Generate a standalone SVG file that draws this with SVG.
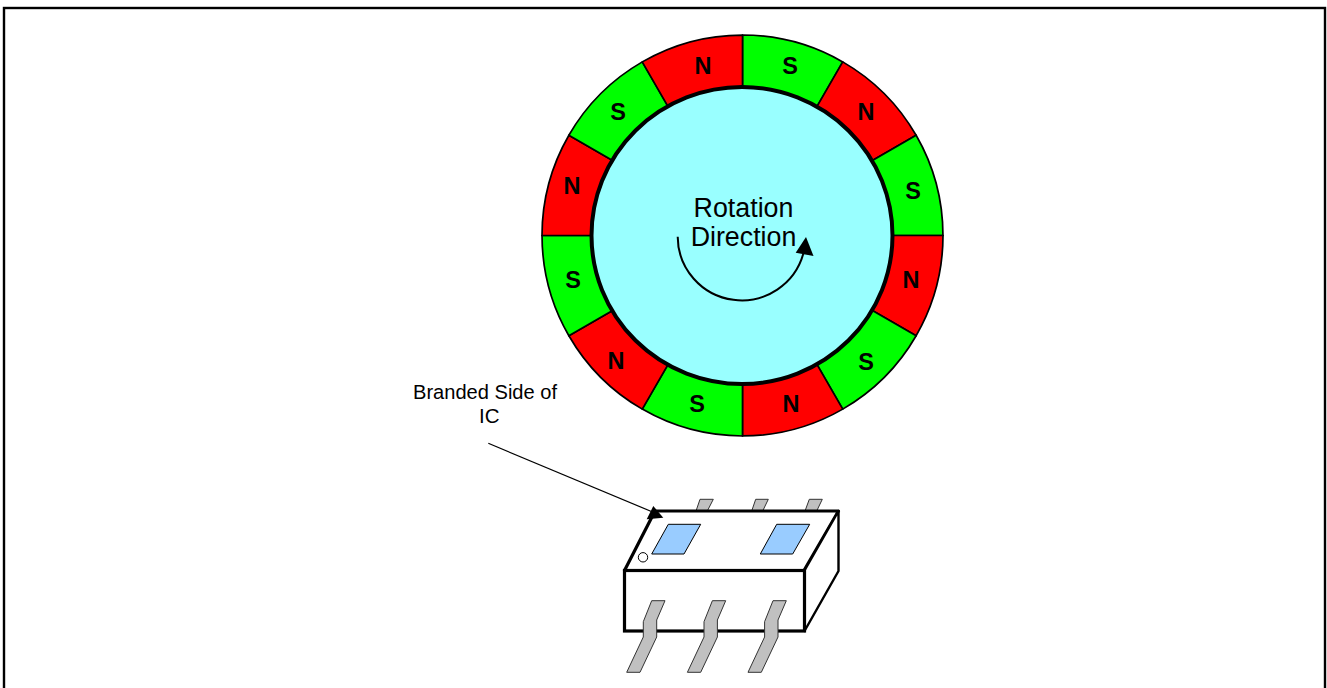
<svg xmlns="http://www.w3.org/2000/svg" width="1327" height="688" viewBox="0 0 1327 688">
<style>
text{font-family:"Liberation Sans",Arial,sans-serif;fill:#000;text-anchor:middle}
.pole{font-size:23.5px;font-weight:bold}
.lbl{font-size:26.8px}
.note{font-size:20.5px}
.n{fill:#f00}.s{fill:#0f0}
.seg{stroke:#000;stroke-width:1.7;stroke-linejoin:round}
.pin{fill:#c0c0c0;stroke:#333;stroke-width:1;stroke-linejoin:round}
.win{fill:#9cf;stroke:#000;stroke-width:1}
.thin{fill:none;stroke:#000;stroke-width:1.2}
</style>
<defs>
<path id="seg" class="seg" d="M742.5 235.5L742.5 35A200.5 200.5 0 0 1 842.75 61.9Z"/>
<path id="fp" class="pin" d="M651.7 600.7H665L656.7 620V637L640 672.3H626.7L643.3 637V621.7Z"/>
</defs>
<rect id="frame" x="4" y="8" width="1321" height="690" fill="#fff" stroke="#000" stroke-width="2.4"/>
<g id="ring">
<use href="#seg" class="s"/>
<use href="#seg" class="n" transform="rotate(30 742.5 235.5)"/>
<use href="#seg" class="s" transform="rotate(60 742.5 235.5)"/>
<use href="#seg" class="n" transform="rotate(90 742.5 235.5)"/>
<use href="#seg" class="s" transform="rotate(120 742.5 235.5)"/>
<use href="#seg" class="n" transform="rotate(150 742.5 235.5)"/>
<use href="#seg" class="s" transform="rotate(180 742.5 235.5)"/>
<use href="#seg" class="n" transform="rotate(210 742.5 235.5)"/>
<use href="#seg" class="s" transform="rotate(240 742.5 235.5)"/>
<use href="#seg" class="n" transform="rotate(270 742.5 235.5)"/>
<use href="#seg" class="s" transform="rotate(300 742.5 235.5)"/>
<use href="#seg" class="n" transform="rotate(330 742.5 235.5)"/>
</g>
<g id="rotor">
<ellipse cx="742" cy="235.5" rx="150.5" ry="148.5" fill="#9ff" stroke="#000" stroke-width="4"/>
<text class="lbl" x="743.5" y="217">Rotation</text>
<text class="lbl" x="743.5" y="246">Direction</text>
</g>
<g id="poles" class="pole">
<text x="703" y="74">N</text>
<text x="790" y="74">S</text>
<text x="866" y="120">N</text>
<text x="913" y="199">S</text>
<text x="911" y="288">N</text>
<text x="866" y="370">S</text>
<text x="791" y="411.5">N</text>
<text x="697" y="412">S</text>
<text x="616" y="369">N</text>
<text x="573" y="288">S</text>
<text x="572" y="194">N</text>
<text x="618" y="119.5">S</text>
</g>
<g id="chip">
<path class="pin" d="M700 499.3H713.3L707.3 511H696Z"/>
<path class="pin" d="M755.7 499.3H768.3L762.7 511H751.7Z"/>
<path class="pin" d="M809.3 499.3H822.3L816.7 511H805Z"/>
<path d="M624.5 570.5L655 511H838.5L804 570.5Z" fill="#fff" stroke="#000" stroke-width="3.2" stroke-linejoin="round"/>
<path d="M838.5 511V571L804.5 631V570.5Z" fill="#fff" stroke="#000" stroke-width="2.4" stroke-linejoin="round"/>
<rect x="624.5" y="570.5" width="180" height="60.5" fill="#fff" stroke="#000" stroke-width="3.2"/>
<path class="win" d="M668.3 524.3H700.7L684 554H651.7Z"/>
<path class="win" d="M776.7 524.3H809.7L792.7 554H760.3Z"/>
<circle cx="643" cy="557.3" r="4.7" fill="#fff" stroke="#000" stroke-width="1"/>
<use href="#fp"/>
<use href="#fp" x="60.7"/>
<use href="#fp" x="121.3"/>
</g>
<g id="note">
<text class="note" x="485" y="399" textLength="144" lengthAdjust="spacingAndGlyphs">Branded Side of</text>
<text class="note" x="489.3" y="423.3">IC</text>
</g>
<g id="connectors">
<path d="M677.7 236.7A64 64 0 0 0 803.5 253" fill="none" stroke="#000" stroke-width="2"/>
<path d="M806 237L795.7 252.7L813.5 256Z" fill="#000"/>
<path d="M488.3 443.3L655 513" class="thin"/>
<path d="M653.3 506L663.3 517.7L646.7 519.3Z" fill="#000"/>
</g>
</svg>
